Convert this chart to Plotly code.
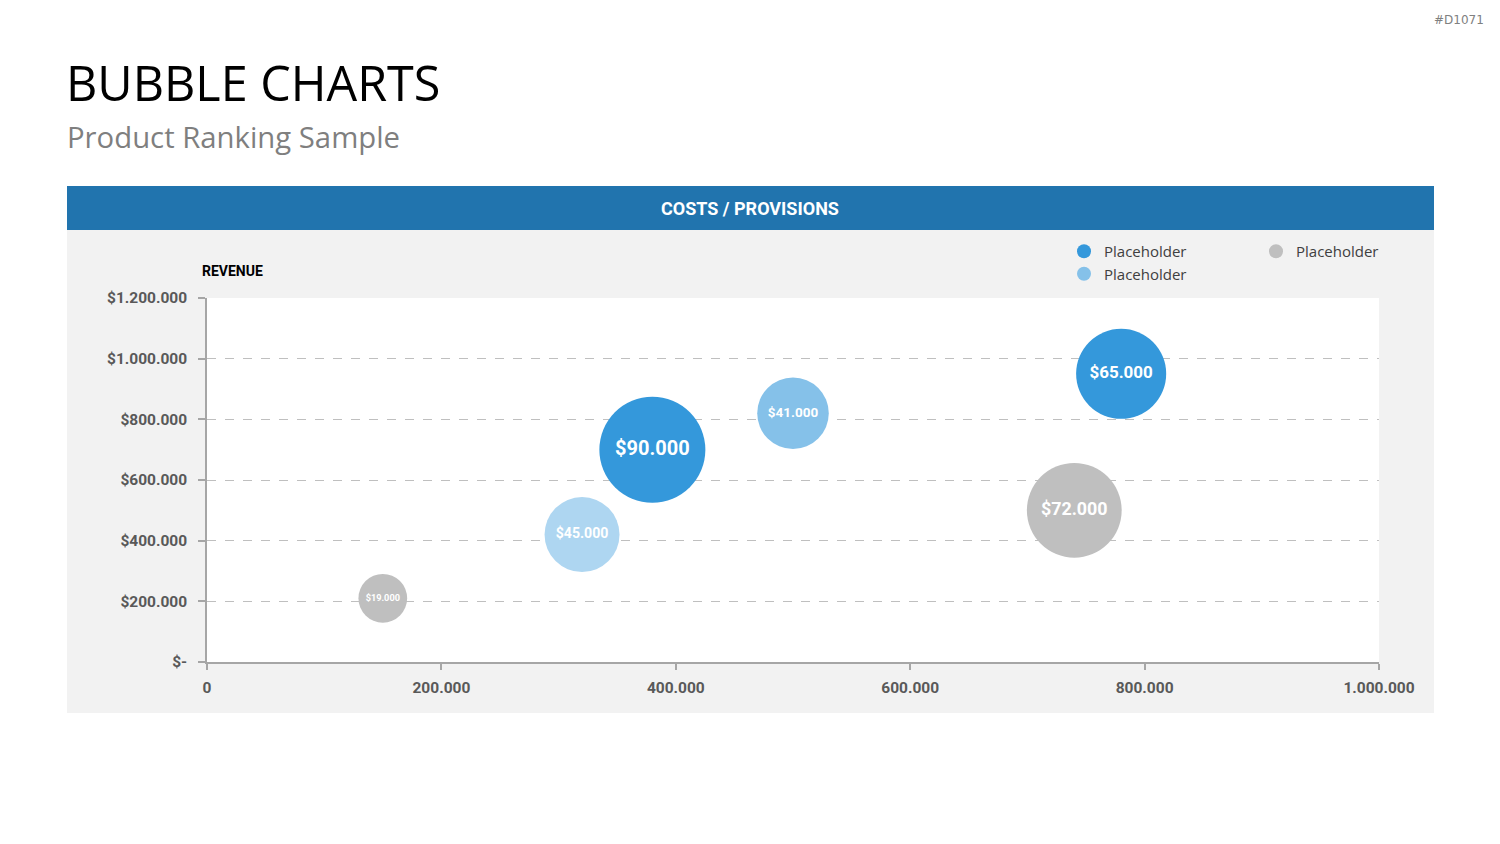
import plotly.graph_objects as go

# ---- data ----
legend_names = ["Placeholder", "Placeholder", "Placeholder"]
s1_x = [380000, 780000]
s1_y = [700000, 950000]
s1_v = [90000, 65000]
s2_x = [500000, 320000]
s2_y = [820000, 420000]
s2_v = [41000, 45000]
s3_x = [150000, 740000]
s3_y = [210000, 500000]
s3_v = [19000, 72000]

x_ticks = [0, 200000, 400000, 600000, 800000, 1000000]
x_tick_labels = ["0", "200.000", "400.000", "600.000", "800.000", "1.000.000"]
y_ticks = [0, 200000, 400000, 600000, 800000, 1000000, 1200000]
y_tick_labels = ["$-", "$200.000", "$400.000", "$600.000", "$800.000", "$1.000.000", "$1.200.000"]

# ---- styling ----
W, H = 1500, 844
L, R, T, B = 207, 1379, 298, 662
COND = "Roboto, sans-serif"
C_BLUE = "#3498DB"
C_LBLUE = "#85C1E9"
C_LLBLUE = "#AED6F1"
C_GRAY = "#BFBFBF"


def px(x):
    return (x - L) / (R - L)


def py(y):
    return (B - y) / (B - T)


def cfont(size, color):
    return dict(family=COND, size=size, color=color, weight="bold")


MAXV = 90000
sizeref = 2.0 * MAXV / (106 ** 2)


def fmt(v):
    return "${:,}".format(v).replace(",", ".")


def tsize(v):
    return 20 * (v / MAXV) ** 0.5


fig = go.Figure()


def add(xs, ys, vs, colors):
    fig.add_trace(go.Scatter(
        x=xs, y=ys, mode="markers+text",
        name="",
        showlegend=False,
        text=[fmt(v) for v in vs],
        textposition="middle center",
        textfont=dict(family=COND, color="white", size=[tsize(v) for v in vs], weight="bold"),
        marker=dict(size=vs, sizemode="area", sizeref=sizeref, color=colors,
                    line=dict(width=0), opacity=1),
        hoverinfo="skip",
        cliponaxis=False,
    ))


add(s1_x, s1_y, s1_v, [C_BLUE, C_BLUE])
add(s2_x, s2_y, s2_v, [C_LBLUE, C_LLBLUE])
add(s3_x, s3_y, s3_v, [C_GRAY, C_GRAY])

# legend entries
for name, col, lg in zip(legend_names, [C_BLUE, C_LBLUE, C_GRAY], ["legend", "legend", "legend2"]):
    fig.add_trace(go.Scatter(x=[None], y=[None], mode="markers", name=name,
                             marker=dict(size=14, color=col), legend=lg, hoverinfo="skip"))

shapes = [
    dict(type="rect", xref="paper", yref="paper", x0=px(67), x1=px(1434), y0=py(713), y1=py(230),
         fillcolor="#F2F2F2", line=dict(width=0), layer="below"),
    dict(type="rect", xref="paper", yref="paper", x0=0, x1=1, y0=0, y1=1,
         fillcolor="white", line=dict(width=0), layer="below"),
    dict(type="rect", xref="paper", yref="paper", x0=px(67), x1=px(1434), y0=py(230), y1=py(186),
         fillcolor="#2174AE", line=dict(width=0), layer="below"),
]

annotations = [
    dict(text="BUBBLE CHARTS", xref="paper", yref="paper", x=px(64), y=py(82),
         xanchor="left", yanchor="middle", showarrow=False,
         font=dict(family="Open Sans, sans-serif", size=48.5, color="#000000")),
    dict(text="Product Ranking Sample", xref="paper", yref="paper", x=px(65), y=py(137),
         xanchor="left", yanchor="middle", showarrow=False,
         font=dict(family="Open Sans, sans-serif", size=29.3, color="#7F7F7F")),
    dict(text="COSTS / PROVISIONS", xref="paper", yref="paper", x=px(750), y=py(208),
         xanchor="center", yanchor="middle", showarrow=False,
         font=cfont(18, "white")),
    dict(text="REVENUE", xref="paper", yref="paper", x=px(200), y=py(271),
         xanchor="left", yanchor="middle", showarrow=False,
         font=cfont(14, "#000000")),
    dict(text="#D1071", xref="paper", yref="paper", x=px(1486), y=py(20),
         xanchor="right", yanchor="middle", showarrow=False,
         font=dict(family="DejaVu Sans, sans-serif", size=12, color="#808080")),
]

legend_common = dict(yanchor="top", xanchor="left", orientation="v",
                     bgcolor="rgba(0,0,0,0)", itemsizing="trace", tracegroupgap=0,
                     font=dict(family="Open Sans, sans-serif", size=15, color="#404040"),
                     itemwidth=30)

fig.update_layout(
    width=W, height=H,
    margin=dict(l=L, r=W - R, t=T, b=H - B, pad=0),
    paper_bgcolor="white", plot_bgcolor="white",
    showlegend=True,
    shapes=shapes, annotations=annotations,
    legend=dict(x=px(1064), y=py(235), **legend_common),
    legend2=dict(x=px(1256), y=py(235), **legend_common),
    xaxis=dict(range=[0, 1000000], tickvals=x_ticks, ticktext=x_tick_labels,
               showgrid=False, zeroline=False, showline=True, linecolor="#A6A6A6", linewidth=1.5,
               ticks="outside", ticklen=6, tickcolor="#A6A6A6", tickwidth=1.5,
               tickfont=cfont(15.5, "#595959"), ticklabelstandoff=5,
               fixedrange=True),
    yaxis=dict(range=[0, 1200000], tickvals=y_ticks, ticktext=y_tick_labels,
               showgrid=True, gridcolor="#BFBFBF", griddash="dash", gridwidth=1,
               zeroline=False, showline=True, linecolor="#A6A6A6", linewidth=1.5,
               ticks="outside", ticklen=7, tickcolor="#A6A6A6", tickwidth=1.5,
               tickfont=cfont(15.5, "#595959"),
               ticklabelstandoff=8, fixedrange=True),
)

fig.write_html("out.html")
